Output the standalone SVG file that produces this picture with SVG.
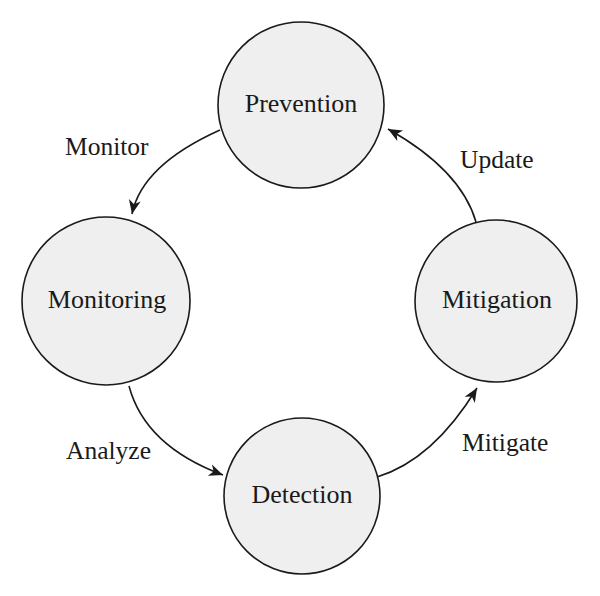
<svg xmlns="http://www.w3.org/2000/svg" width="600" height="596" viewBox="0 0 600 596">
<style>
.node{fill:#efefef;stroke:#1a1a1a;stroke-width:1.6}
.t{font-family:"Liberation Serif","DejaVu Serif",serif;font-size:26px;fill:#1a1a1a;text-anchor:middle;dominant-baseline:central}
.lbl{font-family:"Liberation Serif","DejaVu Serif",serif;font-size:25.5px;fill:#1a1a1a}
.edge{fill:none;stroke:#1a1a1a;stroke-width:1.6;marker-end:url(#arr)}
</style>
<defs>
<marker id="arr" viewBox="-15 -7 16 14" refX="0" refY="0" markerWidth="16" markerHeight="14" markerUnits="userSpaceOnUse" orient="auto">
<path d="M0,0 L-14,-6 L-10,0 L-14,6 Z" fill="#1a1a1a"/>
</marker>
</defs>
<rect width="600" height="596" fill="#ffffff"/>
<g id="connectors">
<path class="edge" d="M220,130 Q142,165 132,214"/>
<path class="edge" d="M129,386 Q145,446 223,475"/>
<path class="edge" d="M377,477 Q433,460 477,388"/>
<path class="edge" d="M476,222 Q461,170 388,129"/>
<text class="lbl" x="65" y="155">Monitor</text>
<text class="lbl" x="66" y="459">Analyze</text>
<text class="lbl" x="462" y="451">Mitigate</text>
<text class="lbl" x="460" y="168">Update</text>
</g>
<g id="prevention">
<circle class="node" cx="301" cy="105" r="83"/>
<text class="t" x="301" y="103">Prevention</text>
</g>
<g id="monitoring">
<circle class="node" cx="106" cy="301" r="84"/>
<text class="t" x="107" y="299">Monitoring</text>
</g>
<g id="mitigation">
<circle class="node" cx="496" cy="301" r="81"/>
<text class="t" x="497" y="299">Mitigation</text>
</g>
<g id="detection">
<circle class="node" cx="302" cy="496" r="78"/>
<text class="t" x="302" y="494">Detection</text>
</g>
</svg>
